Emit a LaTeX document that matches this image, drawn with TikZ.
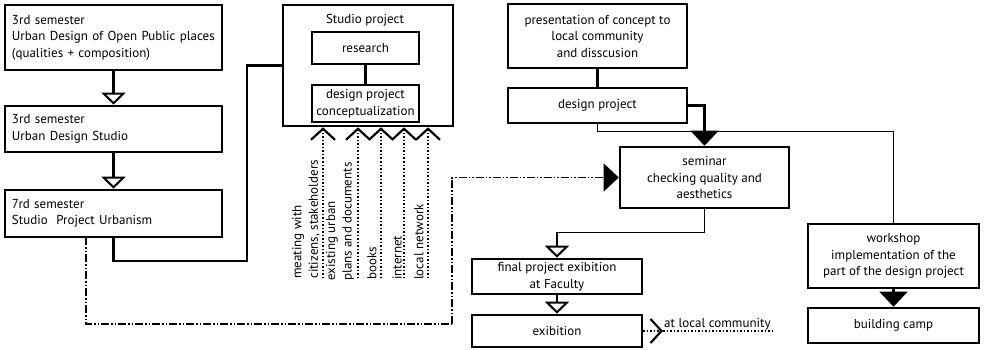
\documentclass[tikz,border=0pt]{standalone}
\usepackage{fontspec}
\setmainfont{PT Sans}
\usetikzlibrary{arrows.meta}

\begin{document}
\begin{tikzpicture}[x=1pt, y=-1pt, font=\fontsize{13}{16.5}\selectfont,
  box/.style={draw, line width=2.6pt, inner sep=0pt, align=center},
  leftbox/.style={box, align=left, text width=203pt},
  inbox/.style={draw, line width=2.2pt, inner sep=0pt, align=center},
  link/.style={line width=2.2pt},
  thinlink/.style={line width=1.1pt},
  hollowhead/.style={-{Triangle[open, width=24pt, length=12pt, line width=2pt]}},
  fullhead/.style={-{Triangle[width=28pt, length=15pt]}},
  feed/.style={dotted, line width=1.5pt, -{Straight Barb[width=24pt, length=11pt, line width=2.2pt]}},
  feedlbl/.style={rotate=90, anchor=west, align=left, inner sep=0pt},
  dashdot/.style={line width=1.5pt, dash pattern=on 8pt off 2pt on 1.5pt off 2pt on 1.5pt off 2pt}]
% geometry: 1 unit = 1 px of the 985 x 350 sheet, y grows downwards
\useasboundingbox (0,0) rectangle (985,350);

% ---- semesters (left column) ----
\node[leftbox, minimum width=217pt, minimum height=65pt] (semA) at (113.5,37.5)
  {3rd semester\\Urban Design of Open Public places\\(qualities + composition)};
\node[leftbox, minimum width=217pt, minimum height=46pt] (semB) at (113.5,129)
  {3rd semester\\Urban Design Studio};
\node[leftbox, minimum width=217pt, minimum height=47pt] (semC) at (113.5,213.5)
  {7rd semester\\Studio\ \ Project Urbanism};
\draw[link, hollowhead] (semA) -- (semB);
\draw[link, hollowhead] (semB) -- (semC);

% ---- studio project ----
\node[box, minimum width=170pt, minimum height=121pt] (studio) at (368,65.5) {};
\node (studiottl) at (365,20) {Studio project};
\node[inbox, minimum width=107pt, minimum height=32pt] (research) at (365.5,48) {research};
\node[inbox, minimum width=107pt, minimum height=37pt] (concept) at (365.5,103.5)
  {design project\\conceptualization};
\draw[link] (research) -- (concept);
\coordinate (bendC) at (247,261);
\draw[link] (semC.south) |- (bendC) |- (studio.west);

% ---- inputs to the studio (dotted, read upwards) ----
\foreach \x in {323,358,381,404,428}{
  \coordinate (f\x) at (\x,278);
  \draw[feed] (f\x) -- (f\x |- studio.south);
}
\node[feedlbl] (meet) at (306,279) {meating with\\citizens, stakeholders};
\node[feedlbl] (plans) at (340,281) {existing urban\\plans and documents};
\node[feedlbl] (books) at (372,280) {books};
\node[feedlbl] (inet) at (397,280) {internet};
\node[feedlbl] (lnet) at (419,280) {local network};

% ---- right part ----
\node[box, minimum width=179pt, minimum height=64pt] (pres) at (597.5,36)
  {presentation of concept to\\local community\\and disscusion};
\node[box, minimum width=179pt, minimum height=35pt] (dproj) at (597.5,105.5) {design project};
\node[box, minimum width=169pt, minimum height=61pt] (seminar) at (704.5,177.5)
  {seminar\\checking quality and\\aesthetics};
\node[box, minimum width=170pt, minimum height=35pt] (final) at (557,276.5)
  {final project exibition\\at Faculty};
\node[box, minimum width=170pt, minimum height=32pt] (exib) at (557,331) {exibition};
\node[box, minimum width=171pt, minimum height=64pt] (work) at (893.5,256)
  {workshop\\implementation of the\\part of the design project};
\node[box, minimum width=171pt, minimum height=35pt] (camp) at (893.5,325.5) {building camp};
\node[anchor=south west, inner sep=1pt] (local) at (663,331) {at local community};

\draw[link] (pres) -- (dproj);
\draw[link, fullhead] (dproj.east) -| (seminar.north);
\draw[thinlink] (dproj.south) -- ++(0,7) -| (work.north);
\draw[thinlink, hollowhead] (seminar.south) -- ++(0,23) -| (final.north);
\draw[link, hollowhead] (final) -- (exib);
\draw[link, fullhead] (work) -- (camp);
\draw[feed] (exib.east) -- (local.south west);
\draw[dotted, line width=1.5pt] (local.south west) -- (local.south east);

% ---- dash-dot link from the 7th semester to the seminar ----
\coordinate (ddstart) at (86,237);
\coordinate (ddcorner) at (452,324);
\draw[dashdot] (ddstart) |- (ddcorner);
\draw[dashdot, fullhead] (ddcorner) |- (seminar.west);
\end{tikzpicture}
\end{document}
